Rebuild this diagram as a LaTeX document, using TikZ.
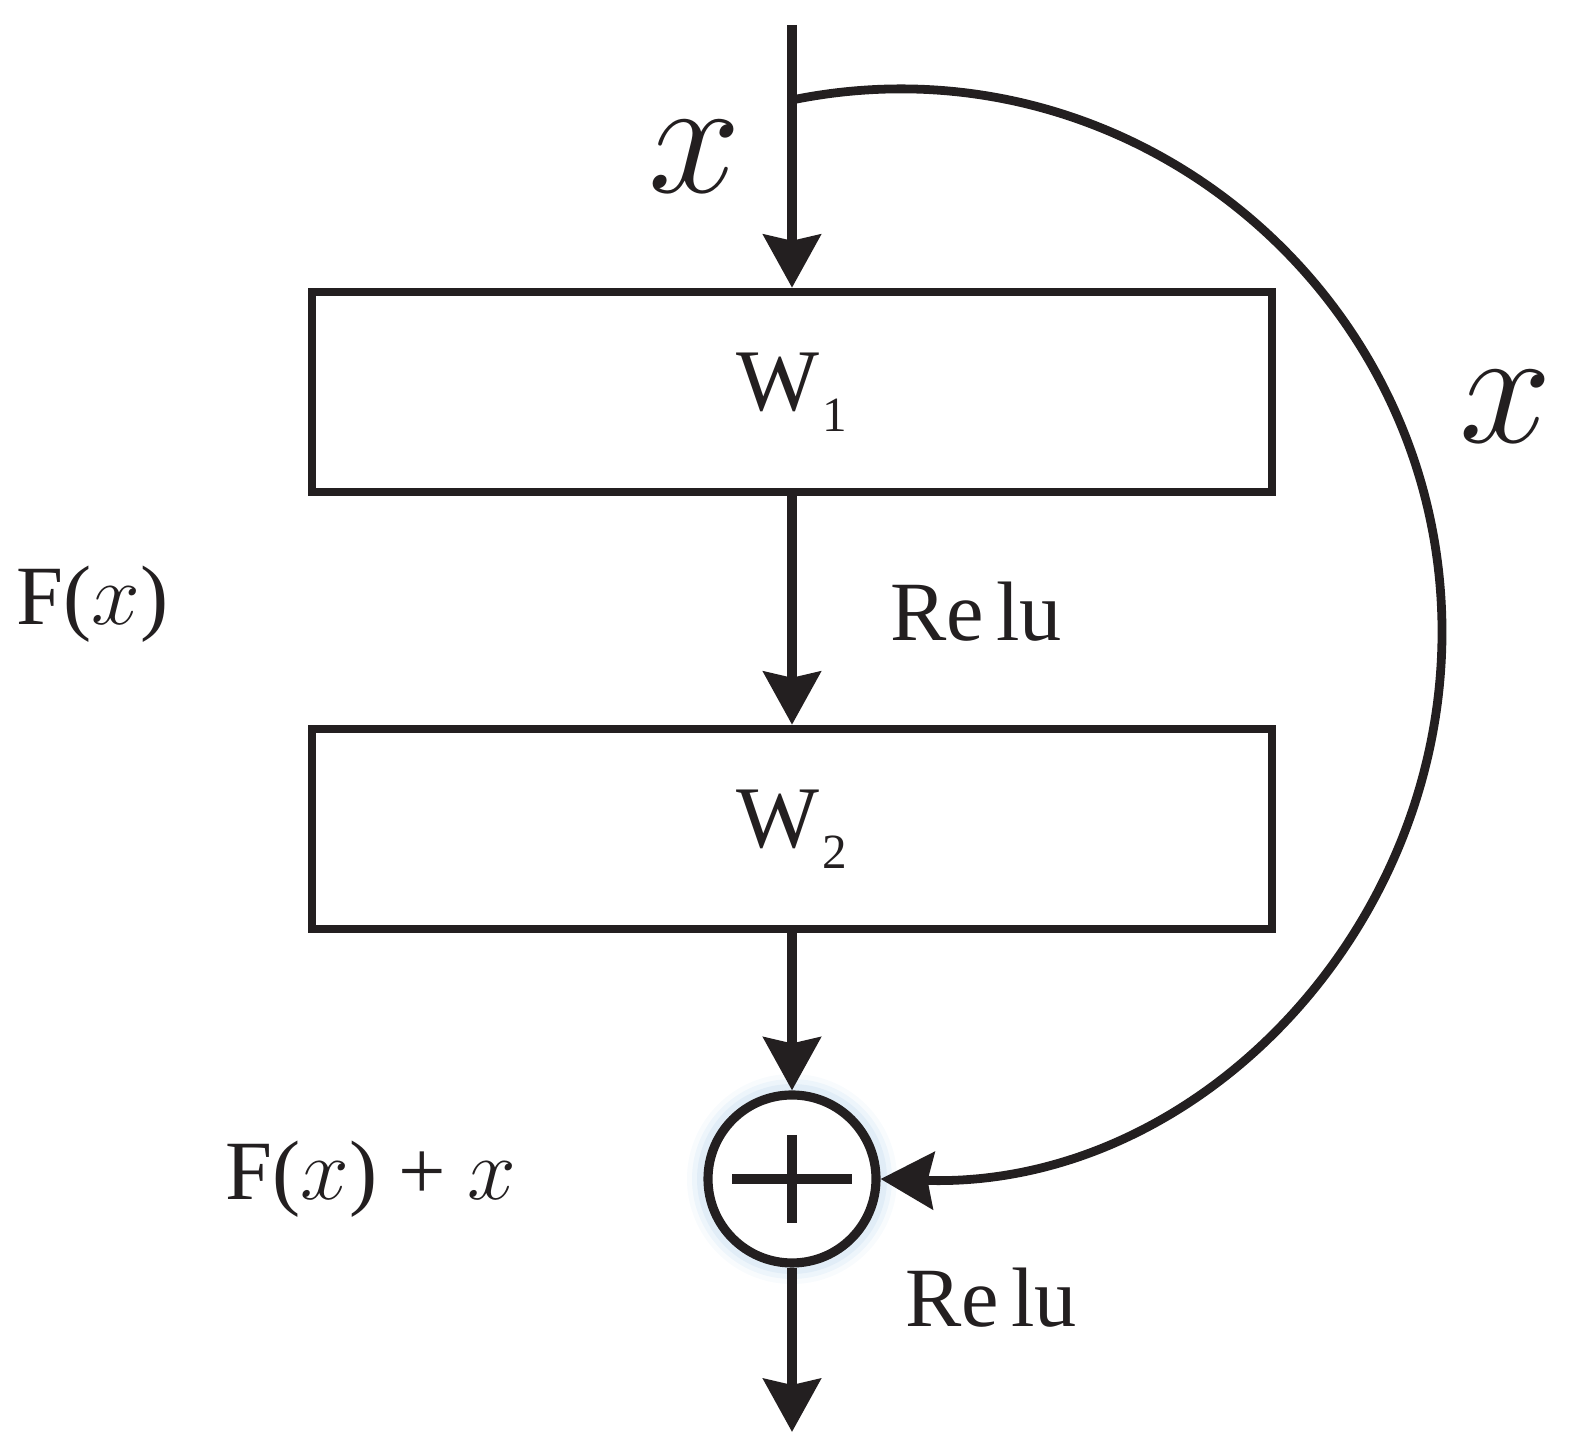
\documentclass[tikz,border=0pt]{standalone}
\usepackage{fontspec}
\setmainfont{Liberation Serif}
\usepackage{xcolor}
\usepackage{tikz}
\usetikzlibrary{arrows.meta}
\definecolor{ink}{RGB}{35,31,32}
\definecolor{glowblue}{RGB}{196,220,240}

\begin{document}
\begin{tikzpicture}
	\tikzstyle{label} = [text=ink, font=\fontsize{24}{28}\selectfont, anchor=base west, inner sep=0pt]
	\tikzstyle{bigx} = [text=ink, font=\fontsize{24.88}{28}\selectfont, anchor=base, inner sep=0pt]
	\tikzstyle{layer} = [draw=ink, line width=2.4pt, minimum width=9.6cm, minimum height=2cm, inner sep=0pt, text=ink, font=\fontsize{25}{30}\selectfont]
	\tikzstyle{adder} = [draw=ink, circle, line width=2.6pt, minimum size=1.68cm, inner sep=0pt, fill=white]
	\tikzset{edge/.style = {draw=ink, line width=2.8pt, -{Stealth[length=5.3mm, width=5.7mm, inset=0.6mm]}}}
	\tikzset{skipedge/.style = {edge, line width=2.5pt}}
	
	\useasboundingbox (0,0) rectangle (15.79,14.53);
	
	\coordinate (in) at (7.92,14.28);
	\coordinate (skip) at (7.92,13.53);
	\coordinate (out) at (7.92,0.21);
	
	\node[layer](w1) at (7.92,10.61) {W\kern1pt\raisebox{-0.21cm}{\fontsize{14}{16}\selectfont 1}};
	\node[layer](w2) at (7.92,6.24) {W\kern1pt\raisebox{-0.21cm}{\fontsize{14}{16}\selectfont 2}};
	
	% soft halo round the adder
	\foreach \r/\o in {1.05/0.12, 1.0/0.2, 0.95/0.3}
		\fill[glowblue, opacity=\o] (7.92,2.74) circle (\r);
	\node[adder](sum) at (7.92,2.74) {};
	\draw[ink, line width=2.8pt] (sum.center) ++(-0.6,0) -- ++(1.2,0);
	\draw[ink, line width=2.8pt] (sum.center) ++(0,0.44) -- ++(0,-0.88);
	
	\draw[edge] (in) to (w1.north);
	\draw[edge] (w1.south) to (w2.north);
	\draw[edge] (w2.south) to (sum.north);
	\draw[edge] (sum.south) to (out);
	\draw[skipedge] (skip) .. controls (11.3,14.22) and (14.42,11.6) .. (14.42,8.21)
		.. controls (14.42,5.2) and (11.95,2.64) .. (sum.east);
	
	\node[bigx](xin) at (6.95,12.6) {\scalebox{1.9}{$x$}};
	\node[bigx](xskip) at (15.06,10.1) {\scalebox{1.9}{$x$}};
	\node[label](relu1) at (8.9,8.12) {Re\kern0.12cm lu};
	\node[label](relu2) at (9.05,1.26) {Re\kern0.12cm lu};
	\node[label](fx) at (0.16,8.28) {F($x$)};
	\node[label](fxx) at (2.25,2.53) {F($x$) + $x$};
	
\end{tikzpicture}
\end{document}
